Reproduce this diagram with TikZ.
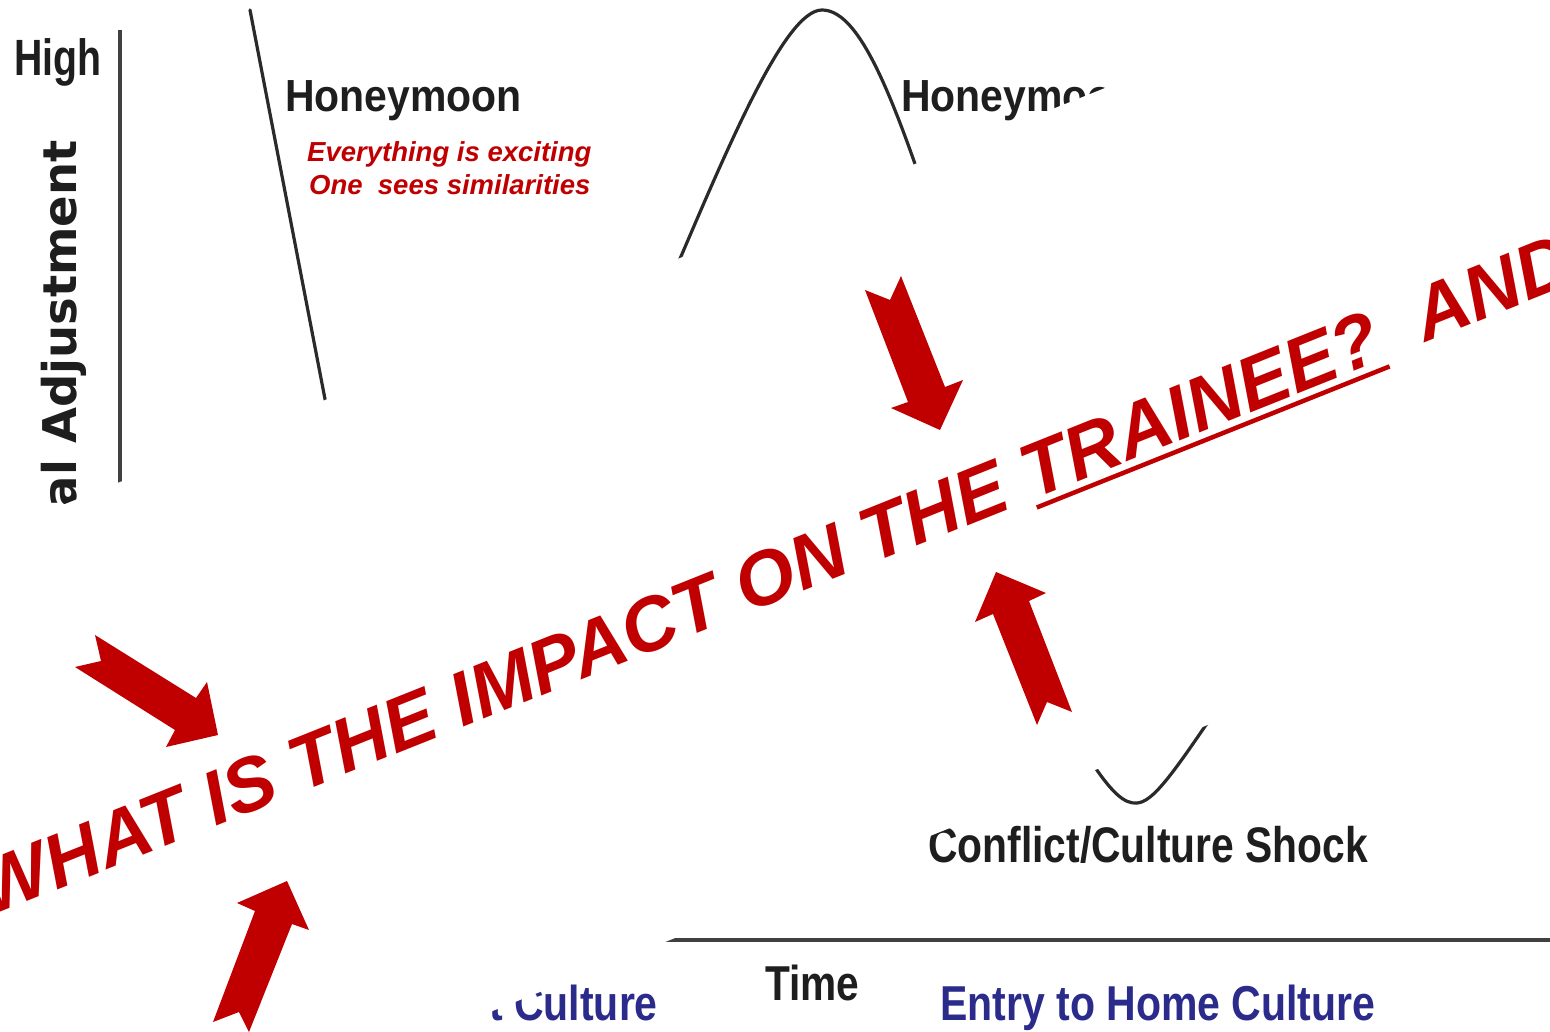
\documentclass[tikz,border=0pt]{standalone}
\usepackage{fontspec}
\setmainfont{Liberation Sans}
\newfontfamily\dvs{DejaVu Sans}
\definecolor{redc}{HTML}{C00000}
\definecolor{navyc}{HTML}{2B2B8C}
\definecolor{inkc}{HTML}{1E1E1E}
\definecolor{curvec}{HTML}{2A2A2A}
\definecolor{axisc}{HTML}{404040}
\newsavebox\ulbox
\newcommand\myul[1]{\sbox\ulbox{#1}\rlap{\rule[-11pt]{\wd\ulbox}{4.5pt}}\usebox\ulbox}
\begin{document}
\begin{tikzpicture}[x=1pt,y=-1pt,
  blk/.style={inner sep=0, text=inkc, font=\bfseries\fontsize{#1}{#1}\selectfont},
  navy/.style={inner sep=0, text=navyc, font=\bfseries\fontsize{#1}{#1}\selectfont},
  rednote/.style={inner sep=0, text=redc, font=\bfseries\itshape\fontsize{27.5}{30}\selectfont},
  curvel/.style={draw=curvec, line width=3.2pt, line cap=round},
  axisl/.style={draw=axisc, line width=3.5pt},
  redarrow/.style={fill=redc}]
\useasboundingbox (0,0) rectangle (1550,1032);
\clip (0,0) rectangle (1550,1032);
\fill[white] (0,0) rectangle (1550,1032);

% axes
\coordinate (ytop) at (120,30);
\coordinate (ybot) at (120,530);
\draw[axisl] (ytop) -- (ybot);
\coordinate (xl) at (560,940);
\coordinate (xr) at (1560,940);
\draw[axisl, line width=4pt] (xl) -- (xr);

% W curve pieces
\draw[curvel] (250,10) -- (330,425);
\draw[curvel] (668,287) .. controls (728,146) and (785,10) .. (822,10)
                        .. controls (855,10) and (885,75) .. (924,190);
\draw[curvel] (1085,752) .. controls (1112,795) and (1125,804) .. (1137,803)
                         .. controls (1152,802) and (1170,778) .. (1212,716);

% diagram labels
\node[blk=51, anchor=base west, xscale=0.77] (high) at (14,76) {High};
\node[anchor=base east, rotate=90, inner sep=0, text=inkc, font=\dvs\bfseries\fontsize{46.5}{47}\selectfont] (ylab) at (76,140) {al Adjustment};
\node[blk=45, anchor=base west, xscale=0.91] (hm1) at (285,112) {Honeymoon};
\node[rednote, anchor=base west] (ex1) at (307,162) {Everything is exciting};
\node[rednote, anchor=base west] (ex2) at (309,195) {One\ \ sees similarities};
\node[blk=45, anchor=base west, xscale=0.91] (hm2) at (901,112) {Honeymoon};
\node[blk=50, anchor=base west, xscale=0.816] (shock) at (928,862) {Conflict/Culture Shock};
\node[blk=49, anchor=base west, xscale=0.83] (time) at (765,1000) {Time};
\node[navy=49, anchor=base west, xscale=0.837] (home) at (940,1020) {Entry to Home Culture};
\node[navy=49, anchor=base east, xscale=0.837] (host) at (658,1020) {t Culture};

% white band
\fill[white] (-60,554) -- (1700,-150) -- (1700,528) -- (-60,1232) -- cycle;

% big question
\node[anchor=base west, rotate=21.8, inner sep=0, text=redc, font=\bfseries\itshape\fontsize{76}{80}\selectfont] (question) at (-10.6,917) {WHAT IS THE IMPACT ON THE \myul{TRAINEE?}\ \ AND};

% red arrows
\fill[redarrow] (865,290) -- (890,300) -- (901,276) -- (945,387) -- (963,380) -- (940,430) -- (891,408) -- (908,402) -- cycle;
\fill[redarrow] (996,572) -- (1046,593) -- (1029,601) -- (1072,712) -- (1047,702) -- (1037,725) -- (993,614) -- (975,622) -- cycle;
\fill[redarrow] (95,635) -- (196,698) -- (207,682) -- (218,735) -- (166,747) -- (175,730) -- (75,667) -- (101,661) -- cycle;
\fill[redarrow] (287,881) -- (309,930) -- (292,924) -- (249,1032) -- (239,1012) -- (213,1022) -- (255,911) -- (237,903) -- cycle;
\end{tikzpicture}
\end{document}
